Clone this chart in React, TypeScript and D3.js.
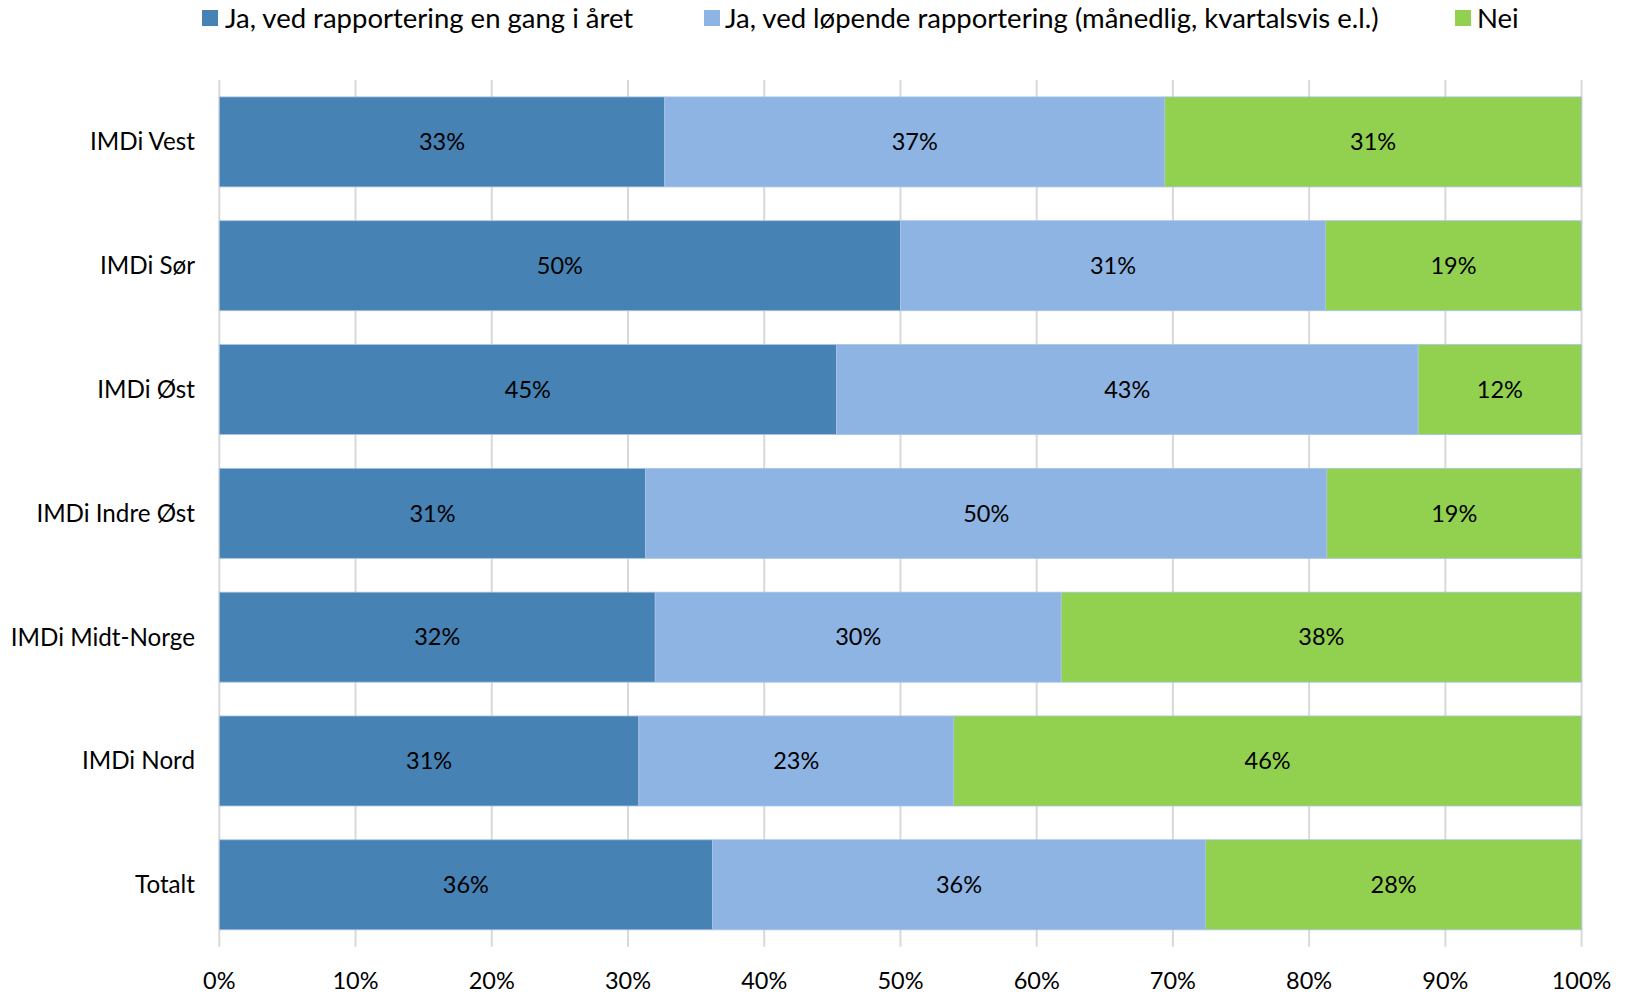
import React from "react";
import * as d3 from "d3";

const categories = ["IMDi Vest", "IMDi Sør", "IMDi Øst", "IMDi Indre Øst", "IMDi Midt-Norge", "IMDi Nord", "Totalt"];
const seriesNames = [
  "Ja, ved rapportering en gang i året",
  "Ja, ved løpende rapportering (månedlig, kvartalsvis e.l.)",
  "Nei",
];
const yearly = [32.7, 50.0, 45.3, 31.3, 32.0, 30.8, 36.2];
const ongoing = [36.7, 31.2, 42.7, 50.0, 29.8, 23.1, 36.2];
const no = [30.6, 18.8, 12.0, 18.7, 38.2, 46.1, 27.6];
const labelsYearly = ["33%", "50%", "45%", "31%", "32%", "31%", "36%"];
const labelsOngoing = ["37%", "31%", "43%", "50%", "30%", "23%", "36%"];
const labelsNo = ["31%", "19%", "12%", "19%", "38%", "46%", "28%"];
const ticks = [0, 10, 20, 30, 40, 50, 60, 70, 80, 90, 100];
const colors = ["#4682B4", "#8EB4E3", "#92D050"];

const W = 1625;
const H = 995;
const FONT = "Lato, 'Open Sans', sans-serif";

export default function App() {
  const left = 219.3;
  const right = 1581.6;
  const top = 80;
  const bottom = 946.7;
  const x = d3.scaleLinear().domain([0, 100]).range([left, right]);
  const y = d3.scaleBand<string>().domain(categories).range([top, bottom]).paddingInner(0.273).paddingOuter(0.1365);

  const seriesVals = [yearly, ongoing, no];
  const seriesLabels = [labelsYearly, labelsOngoing, labelsNo];
  const stacked = categories.map((c, i) => {
    let acc = 0;
    return seriesVals.map((s, k) => {
      const x0 = acc;
      acc += s[i];
      return { c, k, x0, x1: acc, label: seriesLabels[k][i] };
    });
  });

  const legend = [
    { sx: 202, tx: 225 },
    { sx: 704, tx: 725 },
    { sx: 1455, tx: 1477 },
  ];

  return (
    <svg width={W} height={H} style={{ position: "absolute", left: 0, top: 0, background: "#fff" }} fontFamily={FONT}>
      {ticks.map((t) => (
        <line key={t} x1={x(t)} x2={x(t)} y1={top} y2={bottom} stroke="#d9d9d9" strokeWidth={2} />
      ))}
      {stacked.map((row, i) =>
        row.map((seg) => (
          <rect
            key={i + "-" + seg.k}
            x={x(seg.x0)}
            y={y(seg.c)}
            width={x(seg.x1) - x(seg.x0)}
            height={y.bandwidth()}
            fill={colors[seg.k]}
            stroke="#a9c4e6"
            strokeWidth={0.8}
          />
        ))
      )}
      {stacked.map((row, i) =>
        row.map((seg) => (
          <text
            key={"l" + i + "-" + seg.k}
            x={(x(seg.x0) + x(seg.x1)) / 2}
            y={(y(seg.c) as number) + y.bandwidth() / 2}
            dy="0.35em"
            textAnchor="middle"
            fontSize={23.5}
            fill="#000"
          >
            {seg.label}
          </text>
        ))
      )}
      {categories.map((c) => (
        <text key={c} x={195} y={(y(c) as number) + y.bandwidth() / 2} dy="0.35em" textAnchor="end" fontSize={24.2} fill="#000">
          {c}
        </text>
      ))}
      {ticks.map((t) => (
        <text key={"t" + t} x={x(t)} y={989} textAnchor="middle" fontSize={23.5} fill="#000">
          {t + "%"}
        </text>
      ))}
      {seriesNames.map((n, k) => (
        <g key={n}>
          <rect x={legend[k].sx} y={10} width={16} height={16} fill={colors[k]} />
          <text x={legend[k].tx} y={28} fontSize={27.5} fill="#000">
            {n}
          </text>
        </g>
      ))}
    </svg>
  );
}
